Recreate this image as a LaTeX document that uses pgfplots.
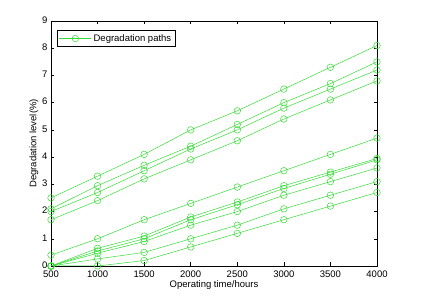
\documentclass[border=0pt]{standalone}
\usepackage{pgfplots}
\pgfplotsset{compat=1.18}
\usepackage{fontspec}
\setmainfont{Liberation Sans}
\definecolor{lg}{RGB}{51,220,51}
\pgfplotsset{dp/.style={color=lg, line width=0.5pt, mark=o, mark size=3.3pt, mark options={solid, draw=lg, fill=none}}}
\begin{document}
\begin{tikzpicture}
\begin{axis}[
  name=ax, at={(0pt,0pt)}, anchor=south west,
  scale only axis, width=326pt, height=245pt,
  xmin=500, xmax=4000, ymin=0, ymax=9,
  xtick={500,1000,1500,2000,2500,3000,3500,4000},
  ytick={0,1,2,3,4,5,6,7,8,9},
  tick align=inside, tick pos=both,
  major tick length=3.5pt,
  axis line style={line width=0.5pt},
  tick style={black, line width=0.5pt},
  font=\fontsize{9.5}{10}\selectfont,
  ticklabel style={font=\fontsize{9.5}{10}\selectfont},
  xticklabel style={yshift=-1.5pt},
  yticklabel style={xshift=0pt, yshift=1pt},
  /pgf/number format/assume math mode=true,
  /pgf/number format/1000 sep={},
  scaled x ticks=false,
  xlabel={Operating time/hours},
  ylabel={Degradation level(\%)},
  xlabel style={yshift=4pt},
  ylabel style={yshift=-3pt},
  legend style={at={(rel axis cs:0.018,0.963)}, anchor=north west, draw=black, line width=0.5pt, font=\fontsize{9.5}{10}\selectfont, inner sep=2pt, row sep=0pt},
  legend cell align=left,
  legend image code/.code={\draw[mark repeat=2,mark phase=2,#1] plot coordinates {(0pt,0pt) (16pt,0pt) (32pt,0pt)};},
]
\addplot[dp] coordinates {(500,2.5)(1000,3.3)(1500,4.1)(2000,5.0)(2500,5.7)(3000,6.5)(3500,7.3)(4000,8.1)};
\addlegendentry{Degradation paths}
\addplot[dp, forget plot] coordinates {(500,2.1)(1000,2.95)(1500,3.7)(2000,4.4)(2500,5.2)(3000,6.0)(3500,6.7)(4000,7.5)};
\addplot[dp, forget plot] coordinates {(500,2.0)(1000,2.7)(1500,3.5)(2000,4.3)(2500,5.0)(3000,5.8)(3500,6.5)(4000,7.2)};
\addplot[dp, forget plot] coordinates {(500,1.7)(1000,2.4)(1500,3.2)(2000,3.9)(2500,4.6)(3000,5.4)(3500,6.1)(4000,6.8)};
\addplot[dp, forget plot] coordinates {(500,0.4)(1000,1.0)(1500,1.7)(2000,2.3)(2500,2.9)(3000,3.5)(3500,4.1)(4000,4.7)};
\addplot[dp, forget plot] coordinates {(500,0)(1000,0.65)(1500,1.1)(2000,1.8)(2500,2.35)(3000,2.95)(3500,3.45)(4000,3.95)};
\addplot[dp, forget plot] coordinates {(500,0)(1000,0.55)(1500,1.0)(2000,1.7)(2500,2.25)(3000,2.85)(3500,3.37)(4000,3.9)};
\addplot[dp, forget plot] coordinates {(500,0)(1000,0.47)(1500,0.9)(2000,1.5)(2500,2.0)(3000,2.6)(3500,3.1)(4000,3.6)};
\addplot[dp, forget plot] coordinates {(500,0)(1000,0.26)(1500,0.5)(2000,1.0)(2500,1.5)(3000,2.1)(3500,2.6)(4000,3.1)};
\addplot[dp, forget plot] coordinates {(500,0)(1000,0)(1500,0.2)(2000,0.7)(2500,1.2)(3000,1.7)(3500,2.2)(4000,2.7)};
\end{axis}
\pgfresetboundingbox
\path (-51pt,-33pt) rectangle (371pt,266pt);
\end{tikzpicture}
\end{document}
